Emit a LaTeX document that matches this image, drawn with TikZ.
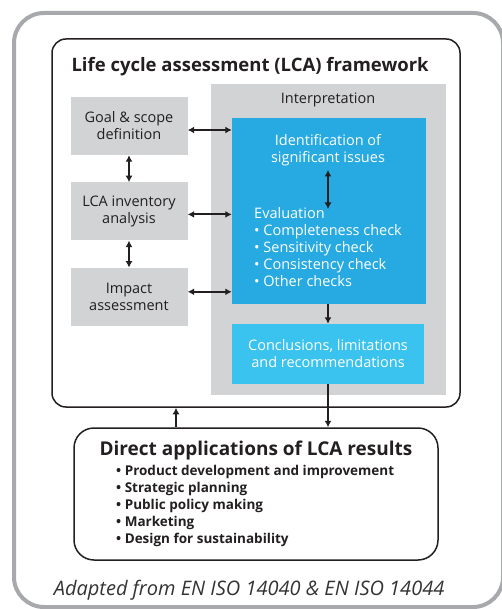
\documentclass[tikz,border=0pt]{standalone}
\usepackage{fontspec}
\setmainfont{Open Sans}
\usetikzlibrary{arrows.meta,positioning,calc}

\definecolor{boxgray}{HTML}{D1D3D4}
\definecolor{framegray}{HTML}{A7A9AC}
\definecolor{lcablue}{HTML}{27AAE1}
\definecolor{lcalight}{HTML}{3BC3F0}
\definecolor{inkdark}{HTML}{231F20}

\begin{document}
\begin{tikzpicture}[x=1pt,y=-1pt,node distance=27pt,
                     stage/.style={
                                % The shape:
                                rectangle,minimum width=117pt,minimum height=58pt,inner sep=0pt,
                                % The rest
                                fill=boxgray,text=inkdark,align=center,
                                font=\fontsize{14.5}{17}\selectfont},
                     bluebox/.style={
                                % The shape:
                                rectangle,inner sep=0pt,
                                % The rest
                                fill=lcablue,text=white,align=center,
                                font=\fontsize{14.5}{17}\selectfont},
                     panel/.style={
                                % The shape:
                                rectangle,rounded corners=14pt,inner sep=0pt,
                                % The rest
                                draw=inkdark,line width=1.5pt},
                     link/.style={line width=2pt,inkdark,
                                {Latex[length=6.5pt,width=7pt]}-{Latex[length=6.5pt,width=7pt]}},
                     flow/.style={line width=2pt,inkdark,-{Latex[length=6.5pt,width=7pt]}}]
 \clip (0,0) rectangle (502,609);
 \draw [framegray,line width=4pt,rounded corners=30pt] (14,13) rectangle (503,607);

 % framework
 \node (frame) [panel,minimum width=408pt,minimum height=368pt] at (256,223) {};
 \node (title) [anchor=west,text=inkdark,font=\fontsize{18.5}{20}\selectfont\bfseries]
       at (68,67) {Life cycle assessment (LCA) framework};

 % the three phases
 \node (goal)      [stage]                   at (129,126) {Goal \& scope\\definition};
 \node (inventory) [stage,below=of goal]      {LCA inventory\\analysis};
 \node (impact)    [stage,below=of inventory] {Impact\\assessment};

 % interpretation
 \node (interp) [fill=boxgray,minimum width=235pt,minimum height=311pt,inner sep=0pt]
       at (328.5,239.5) {};
 \node (interplabel) [text=inkdark,font=\fontsize{14.5}{17}\selectfont] at (328,100) {Interpretation};
 \node (eval)   [bluebox,minimum width=194pt,minimum height=186pt] at (329,211) {};
 \node (issues) [bluebox,fill=none] at (328,150) {Identification of\\significant issues};
 \node (checks) [bluebox,fill=none,anchor=north west,align=left] at (254,207)
       {Evaluation\\
        • Completeness check\\
        • Sensitivity check\\
        • Consistency check\\
        • Other checks};
 \node (concl)  [bluebox,fill=lcalight,minimum width=192pt,minimum height=60pt] at (328,354)
       {Conclusions, limitations\\and recommendations};

 % applications
 \node (apps) [panel,rounded corners=20pt,minimum width=364pt,minimum height=132pt] at (256,494) {};
 \node (appstitle) [text=inkdark,font=\fontsize{19}{21}\selectfont\bfseries] at (256,451)
       {Direct applications of LCA results};
 \node (applist) [anchor=north west,align=left,text=inkdark,inner sep=0pt,
                  font=\fontsize{13.5}{17}\selectfont\bfseries] at (116,465)
       {• Product development and improvement\\
        • Strategic planning\\
        • Public policy making\\
        • Marketing\\
        • Design for sustainability};

 \node (source) [text=black!80,font=\fontsize{20}{22}\selectfont\itshape] at (249,590)
       {Adapted from EN ISO 14040 \& EN ISO 14044};

 % connectors
 \draw [link] (goal) -- (inventory);
 \draw [link] (inventory) -- (impact);
 \draw [link] ([yshift=-4pt]goal.east) -- ([yshift=-4pt]goal.east -| eval.west);
 \draw [link] ([yshift=-3pt]inventory.east) -- ([yshift=-3pt]inventory.east -| eval.west);
 \draw [link] ([yshift=5pt]impact.east) -- ([yshift=5pt]impact.east -| eval.west);
 \draw [link] ([yshift=-4pt]issues.south) -- ([yshift=-2pt]issues.south |- checks.north);
 \draw [flow] (eval.south -| concl.north) -- (concl.north);
 \draw [flow] (concl.south) -- (concl.south |- apps.north);
 \draw [flow] (apps.north -| 176,0) -- (frame.south -| 176,0);
\end{tikzpicture}
\end{document}
